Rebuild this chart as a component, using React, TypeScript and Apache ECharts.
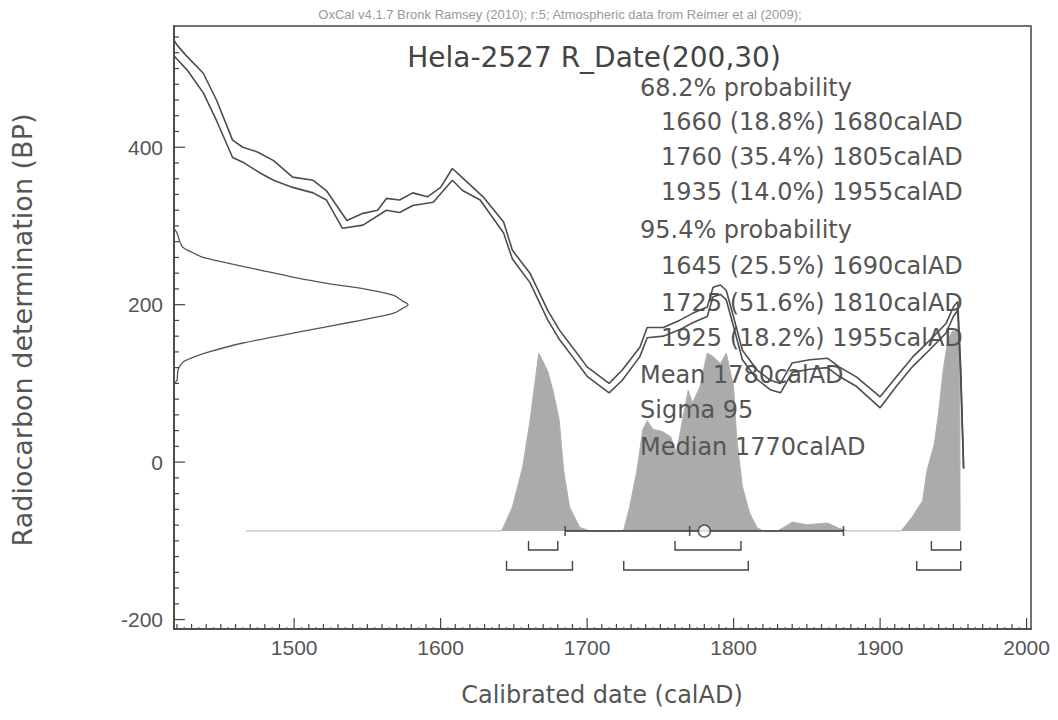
import React, { useEffect, useRef } from "react";
import * as echarts from "echarts";

// Axis ranges and tick labels
const X_MIN = 1418;
const X_MAX = 2003;
const Y_MIN = -212;
const Y_MAX = 554;
const xTickLabels = [1500, 1600, 1700, 1800, 1900, 2000];
const yTickLabels = [-200, 0, 200, 400];

// Calibration curve (IntCal09, +/- 1 sigma envelope), calAD vs BP
const upperYears = [1418, 1420, 1426, 1438, 1447, 1458, 1465, 1475, 1486, 1499, 1513, 1522, 1536, 1547, 1557, 1563, 1572, 1581, 1591, 1600, 1608, 1615, 1622, 1629, 1643, 1649, 1661, 1673, 1681, 1690, 1700, 1715, 1724, 1736, 1741, 1752, 1763, 1772, 1782, 1786, 1791, 1795, 1800, 1806, 1816, 1825, 1832, 1840, 1852, 1864, 1872, 1884, 1900, 1911, 1922, 1934, 1945, 1950, 1953, 1955, 1957];
const upperBP = [536, 530, 517, 494, 460, 409, 400, 394, 383, 362, 358, 345, 307, 316, 320, 335, 333, 342, 337, 349, 373, 361, 349, 337, 305, 269, 240, 193, 168, 146, 121, 100, 117, 146, 171, 171, 180, 189, 197, 222, 225, 218, 184, 142, 117, 104, 100, 126, 130, 132, 121, 108, 83, 108, 133, 155, 176, 197, 204, 120, -8];
const lowerYears = [1418, 1420, 1427, 1438, 1447, 1458, 1465, 1477, 1486, 1499, 1513, 1522, 1533, 1547, 1563, 1572, 1581, 1595, 1608, 1615, 1627, 1643, 1649, 1661, 1673, 1681, 1690, 1700, 1715, 1724, 1736, 1741, 1752, 1763, 1772, 1782, 1786, 1791, 1795, 1800, 1806, 1816, 1825, 1832, 1840, 1852, 1864, 1872, 1884, 1900, 1911, 1922, 1934, 1945, 1950, 1953, 1955, 1957];
const lowerBP = [516, 512, 498, 469, 434, 387, 381, 367, 358, 349, 342, 333, 297, 301, 320, 317, 326, 330, 358, 345, 333, 291, 258, 228, 181, 156, 134, 109, 88, 104, 134, 158, 160, 168, 177, 185, 210, 213, 206, 172, 130, 105, 92, 88, 114, 118, 120, 109, 96, 69, 96, 121, 143, 164, 185, 193, 110, -8];

// Radiocarbon measurement R_Date(200,30): relative density by BP
const gaussBP = [297, 291, 280, 273, 266, 260, 253, 244, 235, 227, 221, 212, 205, 200, 195, 189, 178, 165, 151, 140, 133, 127, 117, 104, 100];
const gaussDensity = [0, 0.013, 0.025, 0.038, 0.08, 0.124, 0.226, 0.368, 0.509, 0.654, 0.795, 0.936, 0.975, 1.0, 0.975, 0.936, 0.76, 0.53, 0.29, 0.15, 0.081, 0.038, 0.017, 0.013, 0];

// Calibrated probability distribution (relative)
const distYears = [1467, 1640, 1642, 1649, 1656, 1661, 1664, 1667, 1673, 1677, 1681, 1684, 1688, 1695, 1702, 1723, 1725, 1729, 1734, 1738, 1741, 1745, 1751, 1757, 1761, 1765, 1769, 1772, 1777, 1782, 1786, 1791, 1795, 1800, 1802, 1806, 1811, 1816, 1820, 1830, 1834, 1840, 1850, 1857, 1864, 1872, 1878, 1914, 1916, 1922, 1929, 1932, 1937, 1940, 1943, 1946, 1949, 1953, 1954.3, 1954.6];
const distProb = [0, 0, 0.006, 0.135, 0.36, 0.62, 0.81, 1.0, 0.9, 0.78, 0.62, 0.34, 0.135, 0.02, 0, 0, 0.006, 0.135, 0.34, 0.57, 0.62, 0.57, 0.56, 0.53, 0.44, 0.62, 0.79, 0.72, 0.81, 1.0, 0.98, 0.94, 1.0, 0.81, 0.53, 0.25, 0.1, 0.02, 0, 0, 0.02, 0.05, 0.035, 0.04, 0.045, 0.015, 0, 0, 0.017, 0.08, 0.17, 0.34, 0.49, 0.67, 0.9, 1.06, 1.12, 1.12, 1.05, 0];

// Ranges and summary statistics
const range68 = [[1660, 1680], [1760, 1805], [1935, 1955]];
const range95 = [[1645, 1690], [1725, 1810], [1925, 1955]];
const range68Pct = [18.8, 35.4, 14.0];
const range95Pct = [25.5, 51.6, 18.2];
const meanYear = 1780;
const sigmaYears = 95;
const medianYear = 1770;

const headerText = "OxCal v4.1.7 Bronk Ramsey (2010); r:5; Atmospheric data from Reimer et al (2009);";
const titleText = "Hela-2527 R_Date(200,30)";
const xName = "Calibrated date (calAD)";
const yName = "Radiocarbon determination (BP)";

const AXIS = "#444";
const TXT = "#555";
const FONT = '"DejaVu Sans", sans-serif';
const TICK_FONT = '"Liberation Sans", Arial, sans-serif';

function ticksEvery(step: number, from: number, to: number) {
  const out: number[] = [];
  for (let v = from; v <= to; v += step) out.push(v);
  return out;
}

export default function App() {
  const ref = useRef<HTMLDivElement>(null);
  useEffect(() => {
    if (!ref.current) return;
    const chart = echarts.init(ref.current, undefined, { renderer: "svg" });

    const textLines: { t: string; x: number; y: number }[] = [
      { t: "68.2% probability", x: 640, y: 88 },
      ...range68.map((r, i) => ({ t: `${r[0]} (${range68Pct[i].toFixed(1)}%) ${r[1]}calAD`, x: 661, y: [122, 157, 192][i] })),
      { t: "95.4% probability", x: 640, y: 230 },
      ...range95.map((r, i) => ({ t: `${r[0]} (${range95Pct[i].toFixed(1)}%) ${r[1]}calAD`, x: 661, y: [266, 303, 338][i] })),
      { t: `Mean ${meanYear}calAD`, x: 640, y: 375 },
      { t: `Sigma ${sigmaYears}`, x: 640, y: 410 },
      { t: `Median ${medianYear}calAD`, x: 640, y: 447 },
    ];

    const bracketSeries = (ranges: number[][], off: number) => ({
      type: "custom",
      xAxisIndex: 0,
      yAxisIndex: 1,
      z: 6,
      silent: true,
      data: ranges.map((r) => [r[0], r[1]]),
      encode: { x: [0, 1] },
      renderItem: (params: any, api: any) => {
        const p0 = api.coord([api.value(0), 0]);
        const p1 = api.coord([api.value(1), 0]);
        const yb = p0[1] + off;
        return {
          type: "polyline",
          shape: { points: [[p0[0], yb - 9], [p0[0], yb], [p1[0], yb], [p1[0], yb - 9]] },
          style: { stroke: "#444", fill: "none", lineWidth: 1.4 },
        };
      },
    });

    const xTickSeries = (vals: number[], len: number, color: string) => ({
      type: "custom",
      xAxisIndex: 0,
      yAxisIndex: 0,
      z: 8,
      silent: true,
      clip: false,
      data: vals.map((v) => [v, Y_MIN]),
      encode: { x: 0, y: 1 },
      renderItem: (params: any, api: any) => {
        const p = api.coord([api.value(0), Y_MIN]);
        return { type: "line", shape: { x1: p[0], y1: p[1], x2: p[0], y2: p[1] - len }, style: { stroke: color, lineWidth: 1.2 } };
      },
    });
    const yTickSeries = (vals: number[], len: number, color: string) => ({
      type: "custom",
      xAxisIndex: 0,
      yAxisIndex: 0,
      z: 8,
      silent: true,
      clip: false,
      data: vals.map((v) => [X_MIN, v]),
      encode: { x: 0, y: 1 },
      renderItem: (params: any, api: any) => {
        const p = api.coord([X_MIN, api.value(1)]);
        return { type: "line", shape: { x1: p[0], y1: p[1], x2: p[0] + len, y2: p[1] }, style: { stroke: color, lineWidth: 1.2 } };
      },
    });

    const option: any = {
      animation: false,
      backgroundColor: "#fff",
      grid: { left: 174, top: 26, width: 857, height: 603, show: true, borderColor: AXIS, borderWidth: 1.5, backgroundColor: "transparent" },
      xAxis: [
        {
          type: "value", min: X_MIN, max: X_MAX, position: "bottom",
          axisLine: { show: true, onZero: false, lineStyle: { color: AXIS, width: 1.5 } },
          axisTick: { show: false },
          axisLabel: { show: true, customValues: xTickLabels, formatter: (v: number) => String(v), color: TXT, fontSize: 21, fontFamily: TICK_FONT, margin: 8 },
          splitLine: { show: false },
        },
        {
          type: "value", min: 0, max: 857 / 234, position: "top", show: false,
          axisLine: { onZero: false },
        },
      ],
      yAxis: [
        {
          type: "value", min: Y_MIN, max: Y_MAX, position: "left",
          axisLine: { show: true, onZero: false, lineStyle: { color: AXIS, width: 1.5 } },
          axisTick: { show: false },
          axisLabel: { show: true, customValues: yTickLabels, formatter: (v: number) => String(v), color: TXT, fontSize: 21, fontFamily: TICK_FONT, margin: 11 },
          splitLine: { show: false },
        },
        {
          type: "value", min: -(629 - 531) / 178, max: (531 - 26) / 178, position: "right", show: false,
          axisLine: { onZero: false },
        },
      ],
      graphic: [
        { type: "text", z: 3, x: 560, y: 14, style: { text: headerText, font: `13px ${TICK_FONT}`, fill: "#999", align: "center", verticalAlign: "middle" } },
        { type: "text", z: 3, x: 594, y: 57, style: { text: titleText, font: `28px ${FONT}`, fill: "#444", align: "center", verticalAlign: "middle" } },
        ...textLines.map((l) => ({ type: "text", z: 3, x: l.x, y: l.y, style: { text: l.t, font: `24px ${FONT}`, fill: TXT, align: "left", verticalAlign: "middle" } })),
        { type: "text", z: 3, x: 602, y: 695, style: { text: xName, font: `24px ${FONT}`, fill: TXT, align: "center", verticalAlign: "middle" } },
        { type: "text", z: 3, x: 22, y: 330, rotation: Math.PI / 2, style: { text: yName, font: `27px ${FONT}`, fill: TXT, align: "center", verticalAlign: "middle" } },
      ],
      series: [
        {
          type: "line", xAxisIndex: 0, yAxisIndex: 1, z: 1,
          data: distYears.map((y, i) => [y, distProb[i]]),
          showSymbol: false,
          lineStyle: { color: "#b0b0b0", width: 1 },
          areaStyle: { color: "#ababab", opacity: 1, origin: 0 },
        },
        {
          type: "line", xAxisIndex: 0, yAxisIndex: 0, z: 5,
          data: upperYears.map((y, i) => [y, upperBP[i]]),
          showSymbol: false,
          lineStyle: { color: "#4d4d4d", width: 1.6 },
        },
        {
          type: "line", xAxisIndex: 0, yAxisIndex: 0, z: 5,
          data: lowerYears.map((y, i) => [y, lowerBP[i]]),
          showSymbol: false,
          lineStyle: { color: "#4d4d4d", width: 1.6 },
        },
        {
          type: "line", xAxisIndex: 1, yAxisIndex: 0, z: 5,
          data: gaussBP.map((b, i) => [gaussDensity[i], b]),
          showSymbol: false,
          smooth: 0.3,
          lineStyle: { color: "#555", width: 1.3 },
        },
        {
          type: "line", xAxisIndex: 0, yAxisIndex: 1, z: 6,
          data: [[meanYear - sigmaYears, 0], [meanYear + sigmaYears, 0]],
          showSymbol: false,
          lineStyle: { color: "#333", width: 1.6 },
        },
        {
          type: "scatter", xAxisIndex: 0, yAxisIndex: 1, z: 6,
          data: [[meanYear - sigmaYears, 0], [meanYear + sigmaYears, 0], [medianYear, 0]],
          symbol: "rect",
          symbolSize: [1.6, 10],
          itemStyle: { color: "#333" },
        },
        {
          type: "scatter", xAxisIndex: 0, yAxisIndex: 1, z: 7,
          data: [[meanYear, 0]],
          symbol: "circle",
          symbolSize: 12,
          itemStyle: { color: "#fff", borderColor: "#333", borderWidth: 1.5 },
        },
        bracketSeries(range68, 19),
        bracketSeries(range95, 39),
        xTickSeries(xTickLabels, 11, AXIS),
        xTickSeries(ticksEvery(10, 1420, 1990).filter((v) => v % 100 !== 0), 5, AXIS),
        xTickSeries(ticksEvery(10, 1425, 1995), 2, "#666"),
        yTickSeries(yTickLabels, 11, AXIS),
        yTickSeries(ticksEvery(20, -200, 540).filter((v) => v % 200 !== 0), 5, AXIS),
      ],
    };
    chart.setOption(option);
    return () => chart.dispose();
  }, []);
  return <div ref={ref} style={{ position: "absolute", left: 0, top: 0, width: 1058, height: 720, background: "#fff" }} />;
}
